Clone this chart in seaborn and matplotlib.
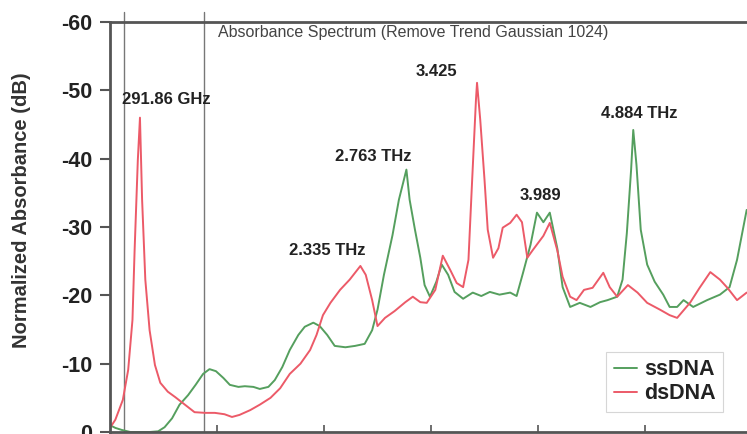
import numpy as np
import pandas as pd
import matplotlib
matplotlib.use("Agg")
import matplotlib.pyplot as plt
import seaborn as sns

# Frequency (THz) and normalized absorbance (dB)
ss_freq = [0.00, 0.05, 0.11, 0.19, 0.28, 0.37, 0.45, 0.51, 0.58, 0.65, 0.73, 0.80, 0.87, 0.93,
           0.99, 1.06, 1.12, 1.20, 1.26, 1.34, 1.40, 1.48, 1.54, 1.61, 1.68, 1.76, 1.82, 1.90,
           1.96, 2.03, 2.10, 2.20, 2.29, 2.38, 2.45, 2.50, 2.56, 2.64, 2.70, 2.74, 2.77, 2.80,
           2.85, 2.90, 2.94, 2.99, 3.05, 3.10, 3.16, 3.22, 3.30, 3.39, 3.47, 3.55, 3.64, 3.74,
           3.80, 3.86, 3.93, 3.99, 4.05, 4.11, 4.18, 4.23, 4.30, 4.39, 4.49, 4.58, 4.65, 4.74,
           4.79, 4.83, 4.87, 4.89, 4.92, 4.96, 5.02, 5.09, 5.17, 5.23, 5.30, 5.36, 5.45, 5.58,
           5.70, 5.79, 5.86, 5.95]
ss_abs = [-1.0, -0.6, -0.3, 0.0, 0.0, 0.0, -0.1, -0.7, -2.0, -4.0, -5.4, -6.9, -8.5, -9.2,
          -8.9, -7.9, -6.9, -6.6, -6.7, -6.6, -6.3, -6.6, -7.6, -9.5, -12.0, -14.2, -15.4, -16.0,
          -15.5, -14.2, -12.6, -12.4, -12.6, -12.9, -14.9, -17.9, -23.0, -28.8, -34.0, -36.5, -38.4, -34.0,
          -29.6, -25.5, -21.5, -19.8, -22.0, -24.5, -23.0, -20.5, -19.5, -20.4, -19.9, -20.5, -20.1, -20.4,
          -19.9, -23.3, -27.4, -32.1, -30.7, -32.1, -26.9, -21.2, -18.3, -18.9, -18.3, -19.0, -19.3, -19.8,
          -22.3, -29.1, -38.4, -44.2, -39.1, -29.6, -24.5, -22.0, -20.1, -18.3, -18.3, -19.3, -18.3, -19.3,
          -20.1, -21.2, -25.2, -32.5]

ds_freq = [0.00, 0.05, 0.12, 0.17, 0.21, 0.23, 0.26, 0.28, 0.30, 0.33, 0.37, 0.42, 0.47, 0.54,
           0.61, 0.70, 0.79, 0.89, 0.98, 1.07, 1.14, 1.21, 1.31, 1.40, 1.50, 1.59, 1.68, 1.78,
           1.87, 1.93, 1.99, 2.06, 2.15, 2.24, 2.34, 2.39, 2.45, 2.50, 2.57, 2.66, 2.76, 2.83,
           2.90, 2.96, 3.04, 3.11, 3.18, 3.24, 3.30, 3.35, 3.38, 3.42, 3.43, 3.46, 3.50, 3.53,
           3.58, 3.63, 3.67, 3.74, 3.80, 3.85, 3.90, 3.95, 4.05, 4.11, 4.18, 4.23, 4.30, 4.36,
           4.43, 4.51, 4.61, 4.67, 4.74, 4.84, 4.93, 5.02, 5.14, 5.23, 5.30, 5.42, 5.51, 5.61,
           5.70, 5.77, 5.86, 5.95]
ds_abs = [-0.6, -1.8, -4.7, -9.1, -16.4, -26.6, -39.8, -46.0, -34.0, -22.3, -14.9, -9.8, -7.2, -5.9,
          -5.1, -4.0, -2.9, -2.8, -2.8, -2.6, -2.2, -2.5, -3.2, -4.0, -5.0, -6.4, -8.5, -10.0,
          -12.0, -14.2, -17.1, -18.9, -20.8, -22.3, -24.3, -23.0, -19.3, -15.5, -16.7, -17.7, -19.0, -19.8,
          -19.0, -18.9, -20.8, -25.8, -23.7, -21.8, -21.2, -25.2, -35.4, -48.6, -51.1, -45.7, -36.9, -29.6,
          -25.5, -26.9, -29.9, -30.6, -31.8, -30.7, -25.5, -26.6, -28.7, -30.6, -26.6, -22.7, -19.8, -19.3,
          -20.8, -21.1, -23.3, -21.2, -19.8, -21.5, -20.4, -18.9, -17.9, -17.1, -16.7, -18.9, -21.1, -23.4,
          -22.3, -21.1, -19.3, -20.4]

# peak labels: text, x, y (text centre)
peak_labels = ["291.86 GHz", "2.335 THz", "2.763 THz", "3.425", "3.989", "4.884 THz"]
peak_x = [0.53, 2.03, 2.46, 3.05, 4.02, 4.95]
peak_y = [-48.6, -26.6, -40.3, -52.7, -34.6, -46.6]

marker_lines = [0.13, 0.88]
y_ticks = [0, -10, -20, -30, -40, -50, -60]
x_ticks = [1, 2, 3, 4, 5]

df = pd.concat([
    pd.DataFrame({"freq": ss_freq, "abs": ss_abs, "sample": "ssDNA"}),
    pd.DataFrame({"freq": ds_freq, "abs": ds_abs, "sample": "dsDNA"}),
])

sns.set_style("white")
plt.rcParams["font.family"] = ["Liberation Sans", "DejaVu Sans"]

fig = plt.figure(figsize=(7.47, 4.34), dpi=100)
ax = fig.add_axes([110 / 747, 2 / 434, 637 / 747, 410 / 434])

sns.lineplot(data=df, x="freq", y="abs", hue="sample", sort=False,
             palette={"ssDNA": "#559f5e", "dsDNA": "#ec5a68"}, lw=1.4, ax=ax)

for xv in marker_lines:
    ax.axvline(xv, ymin=0, ymax=1.025, color="#777777", lw=1, clip_on=False, zorder=0)

for t, xv, yv in zip(peak_labels, peak_x, peak_y):
    ax.text(xv, yv, t, ha="center", va="center", fontsize=12, fontweight="bold", color="#222222")

ax.text(1.01, -58.4, "Absorbance Spectrum (Remove Trend Gaussian 1024)", ha="left", va="center",
        fontsize=11.5, color="#444444")

ax.set_xlim(0, 5.953)
ax.set_ylim(0, -60)
ax.set_yticks(y_ticks)
ax.set_yticklabels([str(v) for v in y_ticks], fontsize=15.5, fontweight="bold", color="#222222")
ax.set_xticks(x_ticks)
ax.set_xticklabels([])
ax.tick_params(axis="y", direction="out", length=7, width=1.5, color="#555555", left=True, pad=6)
ax.tick_params(axis="x", direction="in", length=5, width=1.2, color="#555555", bottom=True)
ax.set_xlabel("")
ax.set_ylabel("")

for s in ["left", "bottom", "top"]:
    ax.spines[s].set_color("#555555")
    ax.spines[s].set_linewidth(2)
ax.spines["right"].set_visible(False)

fig.text(22 / 747, 1 - 210 / 434, "Normalized Absorbance (dB)", rotation=90, ha="center", va="center",
         fontsize=14.5, fontweight="bold", color="#333333")

leg = ax.legend(loc="lower right", bbox_to_anchor=(723 / 747, 22 / 434), bbox_transform=fig.transFigure,
                borderaxespad=0, fancybox=False, frameon=True, handlelength=1.1, handletextpad=0.3,
                borderpad=0.35, labelspacing=0.15, prop={"size": 15.5, "weight": "bold"})
leg.get_frame().set_edgecolor("#cccccc")
leg.get_frame().set_linewidth(0.8)
for txt in leg.get_texts():
    txt.set_color("#222222")

fig.savefig("out.png", dpi=100)
